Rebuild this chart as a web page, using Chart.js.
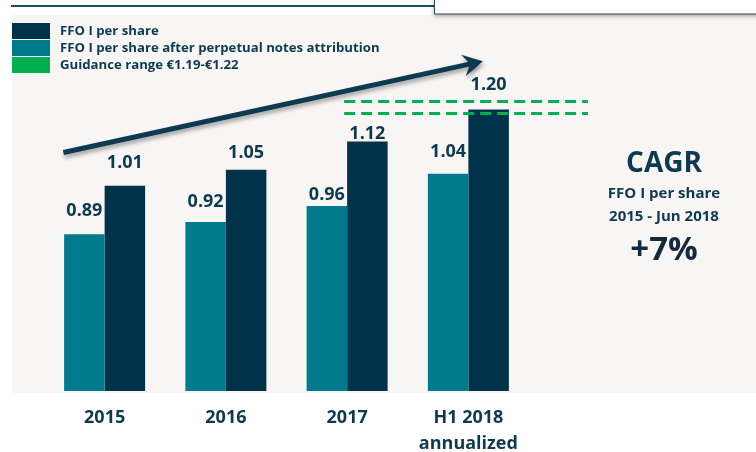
<!DOCTYPE html>
<html>
<head>
<meta charset="utf-8">
<script src="https://cdn.jsdelivr.net/npm/chart.js@4/dist/chart.umd.min.js"></script>
<style>
  body { margin: 0; background: #ffffff; }
  canvas { display: block; }
</style>
</head>
<body>
<canvas id="myCanvas" width="756" height="452"></canvas>
<script>
// chart data
const categories = ["2015", "2016", "2017", ["H1 2018", "annualized"]];
const afterNotes = [0.89, 0.92, 0.96, 1.04];
const ffoPerShare = [1.01, 1.05, 1.12, 1.20];
const guidanceRange = [1.19, 1.22];
const legendLabels = [
  "FFO I per share",
  "FFO I per share after perpetual notes attribution",
  "Guidance range \u20ac1.19-\u20ac1.22",
];
const cagrLines = ["CAGR", "FFO I per share", "2015 - Jun 2018", "+7%"];
// trend arrow: [category index offset, value]
const arrowFrom = [-0.34, 1.093];
const arrowTo = [3.12, 1.32];
// how far each value label sits above its bar (px), per dataset
const labelLift = [
  [18, 15, 6, 17],
  [18, 12, 3, 19],
];

const navy = "#00324a";
const teal = "#007b8e";
const green = "#00b050";
const textColor = "#0d3a50";
const font = "'Open Sans', 'DejaVu Sans', sans-serif";

// background, top rule and the box at top right
const backdrop = {
  id: "backdrop",
  beforeDraw(chart) {
    const ctx = chart.ctx;
    ctx.save();
    ctx.fillStyle = "#ffffff";
    ctx.fillRect(0, 0, chart.width, chart.height);
    ctx.fillStyle = "#f7f6f4";
    ctx.fillRect(12, 15, chart.width - 12, 378);
    ctx.fillStyle = "#1f4a60";
    ctx.fillRect(11, 5, 424, 2);
    ctx.shadowColor = "rgba(0,0,0,0.35)";
    ctx.shadowBlur = 4;
    ctx.shadowOffsetY = 2;
    ctx.fillStyle = "#ffffff";
    ctx.fillRect(434, -2, 330, 16);
    ctx.shadowColor = "transparent";
    ctx.strokeStyle = "#2e4a5c";
    ctx.lineWidth = 1;
    ctx.strokeRect(434.5, -2, 330, 16);
    ctx.restore();
  },
};

// value labels, guidance lines, arrow, legend, CAGR text
const extras = {
  id: "extras",
  afterDatasetsDraw(chart) {
    const ctx = chart.ctx;
    const x = chart.scales.x;
    const y = chart.scales.y;
    ctx.save();

    // guidance range
    ctx.strokeStyle = green;
    ctx.lineWidth = 3;
    ctx.setLineDash([11, 6]);
    const gx0 = x.getPixelForValue(2) - 3;
    const gx1 = chart.chartArea.right + 59;
    guidanceRange.forEach((v) => {
      const py = Math.round(y.getPixelForValue(v)) + 0.5;
      ctx.beginPath();
      ctx.moveTo(gx0, py);
      ctx.lineTo(gx1, py);
      ctx.stroke();
    });
    ctx.setLineDash([]);

    // value labels
    ctx.fillStyle = textColor;
    ctx.font = "bold 18px " + font;
    ctx.textAlign = "center";
    ctx.textBaseline = "alphabetic";
    chart.data.datasets.forEach((ds, i) => {
      chart.getDatasetMeta(i).data.forEach((bar, j) => {
        ctx.fillText(ds.data[j].toFixed(2), bar.x, bar.y - labelLift[i][j]);
      });
    });

    // trend arrow
    const step = x.getPixelForValue(1) - x.getPixelForValue(0);
    const ax0 = x.getPixelForValue(0) + arrowFrom[0] * step;
    const ay0 = y.getPixelForValue(arrowFrom[1]);
    const ax1 = x.getPixelForValue(0) + arrowTo[0] * step;
    const ay1 = y.getPixelForValue(arrowTo[1]);
    const ang = Math.atan2(ay1 - ay0, ax1 - ax0);
    ctx.shadowColor = "rgba(0,0,0,0.35)";
    ctx.shadowBlur = 4;
    ctx.shadowOffsetX = 1;
    ctx.shadowOffsetY = 3;
    ctx.strokeStyle = "#0d3a50";
    ctx.fillStyle = "#0d3a50";
    ctx.lineWidth = 5;
    ctx.lineCap = "butt";
    ctx.beginPath();
    ctx.moveTo(ax0, ay0);
    ctx.lineTo(ax1 - 8 * Math.cos(ang), ay1 - 8 * Math.sin(ang));
    ctx.stroke();
    ctx.translate(ax1, ay1);
    ctx.rotate(ang);
    ctx.beginPath();
    ctx.moveTo(0, 0);
    ctx.lineTo(-20, -11);
    ctx.lineTo(-13, 0);
    ctx.lineTo(-20, 11);
    ctx.closePath();
    ctx.fill();
    ctx.restore();
  },
  afterDraw(chart) {
    const ctx = chart.ctx;
    ctx.save();

    // legend
    const boxColors = [navy, teal, green];
    const boxTops = [23, 40, 57];
    ctx.font = "bold 13.2px " + font;
    ctx.textAlign = "left";
    ctx.textBaseline = "alphabetic";
    legendLabels.forEach((label, i) => {
      ctx.fillStyle = boxColors[i];
      ctx.fillRect(12, boxTops[i], 38, 16);
      ctx.fillStyle = textColor;
      ctx.fillText(label, 60, boxTops[i] + 12);
    });

    // CAGR block
    const cx = 664;
    ctx.textAlign = "center";
    ctx.fillStyle = textColor;
    ctx.font = "bold 28px " + font;
    ctx.fillText(cagrLines[0], cx, 172);
    ctx.font = "bold 15px " + font;
    ctx.fillText(cagrLines[1], cx, 198);
    ctx.fillText(cagrLines[2], cx, 221);
    ctx.fillStyle = "#16283f";
    ctx.font = "bold 33px " + font;
    ctx.fillText(cagrLines[3], cx, 260);
    ctx.restore();
  },
};

function createChart() {
  const canvas = document.getElementById("myCanvas");
  const ctx = canvas.getContext("2d");

  new Chart(ctx, {
    type: "bar",
    data: {
      labels: categories,
      datasets: [
        {
          label: legendLabels[1],
          data: afterNotes,
          backgroundColor: teal,
          categoryPercentage: 0.668,
          barPercentage: 1,
        },
        {
          label: legendLabels[0],
          data: ffoPerShare,
          backgroundColor: navy,
          categoryPercentage: 0.668,
          barPercentage: 1,
        },
      ],
    },
    options: {
      responsive: false,
      animation: false,
      devicePixelRatio: 1,
      layout: { padding: { left: 44, right: 227, top: 29, bottom: 0 } },
      plugins: {
        legend: { display: false },
        tooltip: { enabled: false },
      },
      scales: {
        x: {
          grid: { display: false, drawTicks: false },
          border: { display: false },
          ticks: {
            color: textColor,
            padding: 14,
            font: { family: font, size: 18, weight: "bold", lineHeight: 1.45 },
          },
          afterFit(scale) {
            scale.height = 61;
          },
        },
        y: {
          display: false,
          min: 0.5,
          max: 1.4,
        },
      },
    },
    plugins: [backdrop, extras],
  });
}

createChart();
</script>
</body>
</html>
